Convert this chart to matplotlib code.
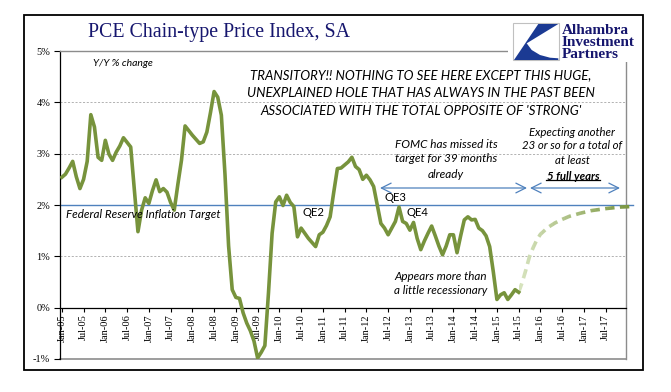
import matplotlib
matplotlib.use("Agg")
import matplotlib.pyplot as plt
import numpy as np
from matplotlib.patches import Rectangle, Polygon
from matplotlib.lines import Line2D

# ---------------- data ----------------
# monthly PCE Y/Y % change, Jan-05 (month 0) .. Jul-15 (month 126)
pce = [2.54, 2.60, 2.72, 2.85, 2.55, 2.32, 2.50, 2.85, 3.76, 3.52, 2.93, 2.87,
       3.26, 2.99, 2.87, 3.03, 3.15, 3.31, 3.22, 3.13, 2.30, 1.48, 1.90, 2.14,
       2.03, 2.28, 2.49, 2.26, 2.32, 2.25, 2.05, 1.90, 2.40, 2.87, 3.54, 3.45,
       3.36, 3.28, 3.20, 3.23, 3.42, 3.80, 4.21, 4.10, 3.75, 2.60, 1.20, 0.35,
       0.20, 0.18, -0.10, -0.30, -0.45, -0.65, -0.98, -0.87, -0.74, 0.29, 1.45, 2.06,
       2.16, 1.99, 2.19, 2.05, 1.97, 1.38, 1.55, 1.45, 1.35, 1.27, 1.19, 1.42,
       1.47, 1.60, 1.77, 2.25, 2.71, 2.72, 2.78, 2.84, 2.93, 2.75, 2.69, 2.50,
       2.58, 2.49, 2.36, 2.00, 1.64, 1.55, 1.42, 1.55, 1.68, 1.96, 1.68, 1.64,
       1.51, 1.66, 1.35, 1.13, 1.30, 1.45, 1.59, 1.40, 1.20, 1.03, 1.20, 1.42,
       1.42, 1.07, 1.40, 1.71, 1.77, 1.71, 1.72, 1.55, 1.50, 1.40, 1.19, 0.70,
       0.16, 0.25, 0.29, 0.16, 0.25, 0.35, 0.30]
months = list(range(len(pce)))

# projected path (month index from Jan-05, value)
proj_months = [126, 127, 128, 129, 130, 131, 132, 134, 136, 138, 140, 143, 146, 150, 154, 157]
proj_values = [0.30, 0.50, 0.74, 1.00, 1.17, 1.32, 1.43, 1.56, 1.65, 1.72, 1.78, 1.84, 1.89, 1.93, 1.96, 1.97]

fed_target = 2.0

xtick_months = list(range(0, 151, 6))
xtick_labels = ['Jan-05', 'Jul-05', 'Jan-06', 'Jul-06', 'Jan-07', 'Jul-07', 'Jan-08',
                'Jul-08', 'Jan-09', 'Jul-09', 'Jan-10', 'Jul-10', 'Jan-11', 'Jul-11',
                'Jan-12', 'Jul-12', 'Jan-13', 'Jul-13', 'Jan-14', 'Jul-14', 'Jan-15',
                'Jul-15', 'Jan-16', 'Jul-16', 'Jan-17', 'Jul-17']
ytick_values = [-1, 0, 1, 2, 3, 4, 5]
ytick_labels = ['-1%', '0%', '1%', '2%', '3%', '4%', '5%']

# ---------------- figure ----------------
W, H = 671, 392
fig = plt.figure(figsize=(W / 100, H / 100), dpi=100)
fig.patch.set_facecolor('white')

def fx(x):
    return x / W

def fy(y):
    return 1 - y / H

ax = fig.add_axes([fx(60), fy(359), (626 - 60) / W, (359 - 51) / H])
ax.set_xlim(-0.5, 155.6)
ax.set_ylim(-1, 5)

GREEN = '#77933c'
BLUE = '#4f81bd'
GRAY = '#8c8c8c'
SERIF = ['Liberation Serif', 'DejaVu Serif']
SANS = ['Lato', 'Open Sans', 'DejaVu Sans']

# spines
for s in ['top', 'right']:
    ax.spines[s].set_color(GRAY)
    ax.spines[s].set_linewidth(1.0)
ax.spines['left'].set_color('black')
ax.spines['left'].set_linewidth(0.9)
ax.spines['bottom'].set_position(('data', 0))
ax.spines['bottom'].set_color('black')
ax.spines['bottom'].set_linewidth(0.9)
ax.axhline(-1, color=GRAY, lw=1.2, clip_on=False, zorder=1)

# grid lines
for g in [1, 3, 4]:
    ax.axhline(g, color='#a6a6a6', lw=0.6, ls=(0, (2.5, 2)), zorder=1)

# ticks
ax.set_yticks(ytick_values)
ax.set_yticklabels(ytick_labels, fontfamily=SERIF, fontsize=7.5)
ax.tick_params(axis='y', direction='out', length=4, width=0.8, pad=3)
ax.set_xticks(xtick_months)
ax.set_xticklabels(xtick_labels, rotation=90, fontfamily=SERIF, fontsize=7.5)
ax.tick_params(axis='x', direction='out', length=3, width=0.8, pad=2)

# fed target line
ax.plot([-0.5, 157.5], [fed_target, fed_target], color=BLUE, lw=1.0, clip_on=False, zorder=2)

# data line
ax.plot(months, pce, color=GREEN, lw=2.6, solid_joinstyle='round', zorder=4)

# projection with colour gradient (same dashed line clipped into strips)
c0 = np.array([214, 227, 189]) / 255
c1 = np.array([119, 147, 60]) / 255
n = 30
x0, x1 = proj_months[0], proj_months[-1] + 1
edges = np.linspace(x0, x1, n + 1)
for i in range(n):
    frac = i / (n - 1)
    col = c0 + (c1 - c0) * frac
    ln, = ax.plot(proj_months, proj_values, color=col, lw=2.6,
                  ls=(0, (2.6, 1.5)), clip_on=True, zorder=3)
    rect = Rectangle((edges[i], -1), edges[i + 1] - edges[i], 6, transform=ax.transData)
    ln.set_clip_path(rect)

# outer border
fig.patches.append(Rectangle((fx(24), fy(370)), (643 - 24) / W, (370 - 15) / H,
                             transform=fig.transFigure, fill=False, ec='black', lw=1.3))

# ---------------- text helpers ----------------
fig.canvas.draw()
renderer = fig.canvas.get_renderer()

def measure(s, size, **kw):
    t = fig.text(0, 0, s, fontsize=size, **kw)
    w = t.get_window_extent(renderer).width
    t.remove()
    return w

def block(lines, xc, ys, width, ref=None, ha='center', **kw):
    if ref is None:
        ref = max(lines, key=lambda s: measure(s, 10, **kw))
    size = 10 * width / measure(ref, 10, **kw)
    out = []
    for s, y in zip(lines, ys):
        out.append(fig.text(fx(xc), fy(y), s, fontsize=size, ha=ha, va='center', **kw))
    return size, out

# title
block(['PCE Chain-type Price Index, SA'], 88, [33], 262, ha='left',
      fontfamily=SERIF, color='#16166e')

# logo (white cover + box + mark + name)
fig.patches.append(Rectangle((fx(508), fy(62)), 133 / W, 44 / H, transform=fig.transFigure,
                             fc='white', ec='none', zorder=5))
fig.patches.append(Rectangle((fx(513), fy(60)), 46 / W, 37 / H, transform=fig.transFigure,
                             fc='white', ec='#c0c0c0', lw=0.8, zorder=6))
logo_pts = [(538.3, 24), (558.3, 24), (526.7, 43.3), (531.7, 50), (540, 55),
            (550, 57.7), (558.3, 58.3), (558.3, 60), (514, 60)]
fig.patches.append(Polygon([(fx(x), fy(y)) for x, y in logo_pts], closed=True,
                           transform=fig.transFigure, fc='#1b3a93', ec='none', zorder=7))
sz, ts = block(['Alhambra', 'Investment', 'Partners'], 562, [31, 43, 55], 73,
               ha='left', fontfamily=SERIF, color='#16166e', fontweight='bold')
for t in ts:
    t.set_zorder(8)

# annotations
block(['Y/Y % change'], 93, [63], 60, ha='left', fontfamily=SANS, style='italic')
block(['TRANSITORY!! NOTHING TO SEE HERE EXCEPT THIS HUGE,',
       'UNEXPLAINED HOLE THAT HAS ALWAYS IN THE PAST BEEN',
       "ASSOCIATED WITH THE TOTAL OPPOSITE OF 'STRONG'"],
      421, [75, 93, 111], 350, fontfamily=SANS, style='italic')
block(['Federal Reserve Inflation Target'], 66, [214], 154, ha='left',
      fontfamily=SANS, style='italic')
block(['FOMC has missed its', 'target for 39 months', 'already'],
      446, [144, 159, 174], 102, fontfamily=SANS, style='italic')
sz, ts = block(['Expecting another', '23 or so for a total of', 'at least'],
               572, [132, 146, 161], 101, fontfamily=SANS, style='italic')
fig.text(fx(573), fy(176), '5 full years', fontsize=sz, ha='center', va='center',
         fontfamily=SANS, style='italic', fontweight='bold')
fig.lines.append(Line2D([fx(546), fx(600)], [fy(180), fy(180)], transform=fig.transFigure,
                        color='black', lw=0.9))
block(['Appears more than', 'a little recessionary'], 441, [276, 291], 93,
      fontfamily=SANS, style='italic')
qs = measure('QE2', 10, fontfamily=SANS)
qsize = 10 * 22 / qs
fig.text(fx(313), fy(213), 'QE2', fontsize=qsize, ha='center', va='center', fontfamily=SANS)
fig.text(fx(395), fy(198), 'QE3', fontsize=qsize, ha='center', va='center', fontfamily=SANS)
fig.text(fx(417), fy(213), 'QE4', fontsize=qsize, ha='center', va='center', fontfamily=SANS)

# arrows
for xa, xb in [(380, 527), (530, 620)]:
    ax.annotate('', xy=(xb, H - 188), xytext=(xa, H - 188),
                xycoords='figure pixels', textcoords='figure pixels',
                arrowprops=dict(arrowstyle='<->,head_length=0.7,head_width=0.35',
                                color=BLUE, lw=0.9, shrinkA=0, shrinkB=0))

fig.savefig('out.png', dpi=100)
